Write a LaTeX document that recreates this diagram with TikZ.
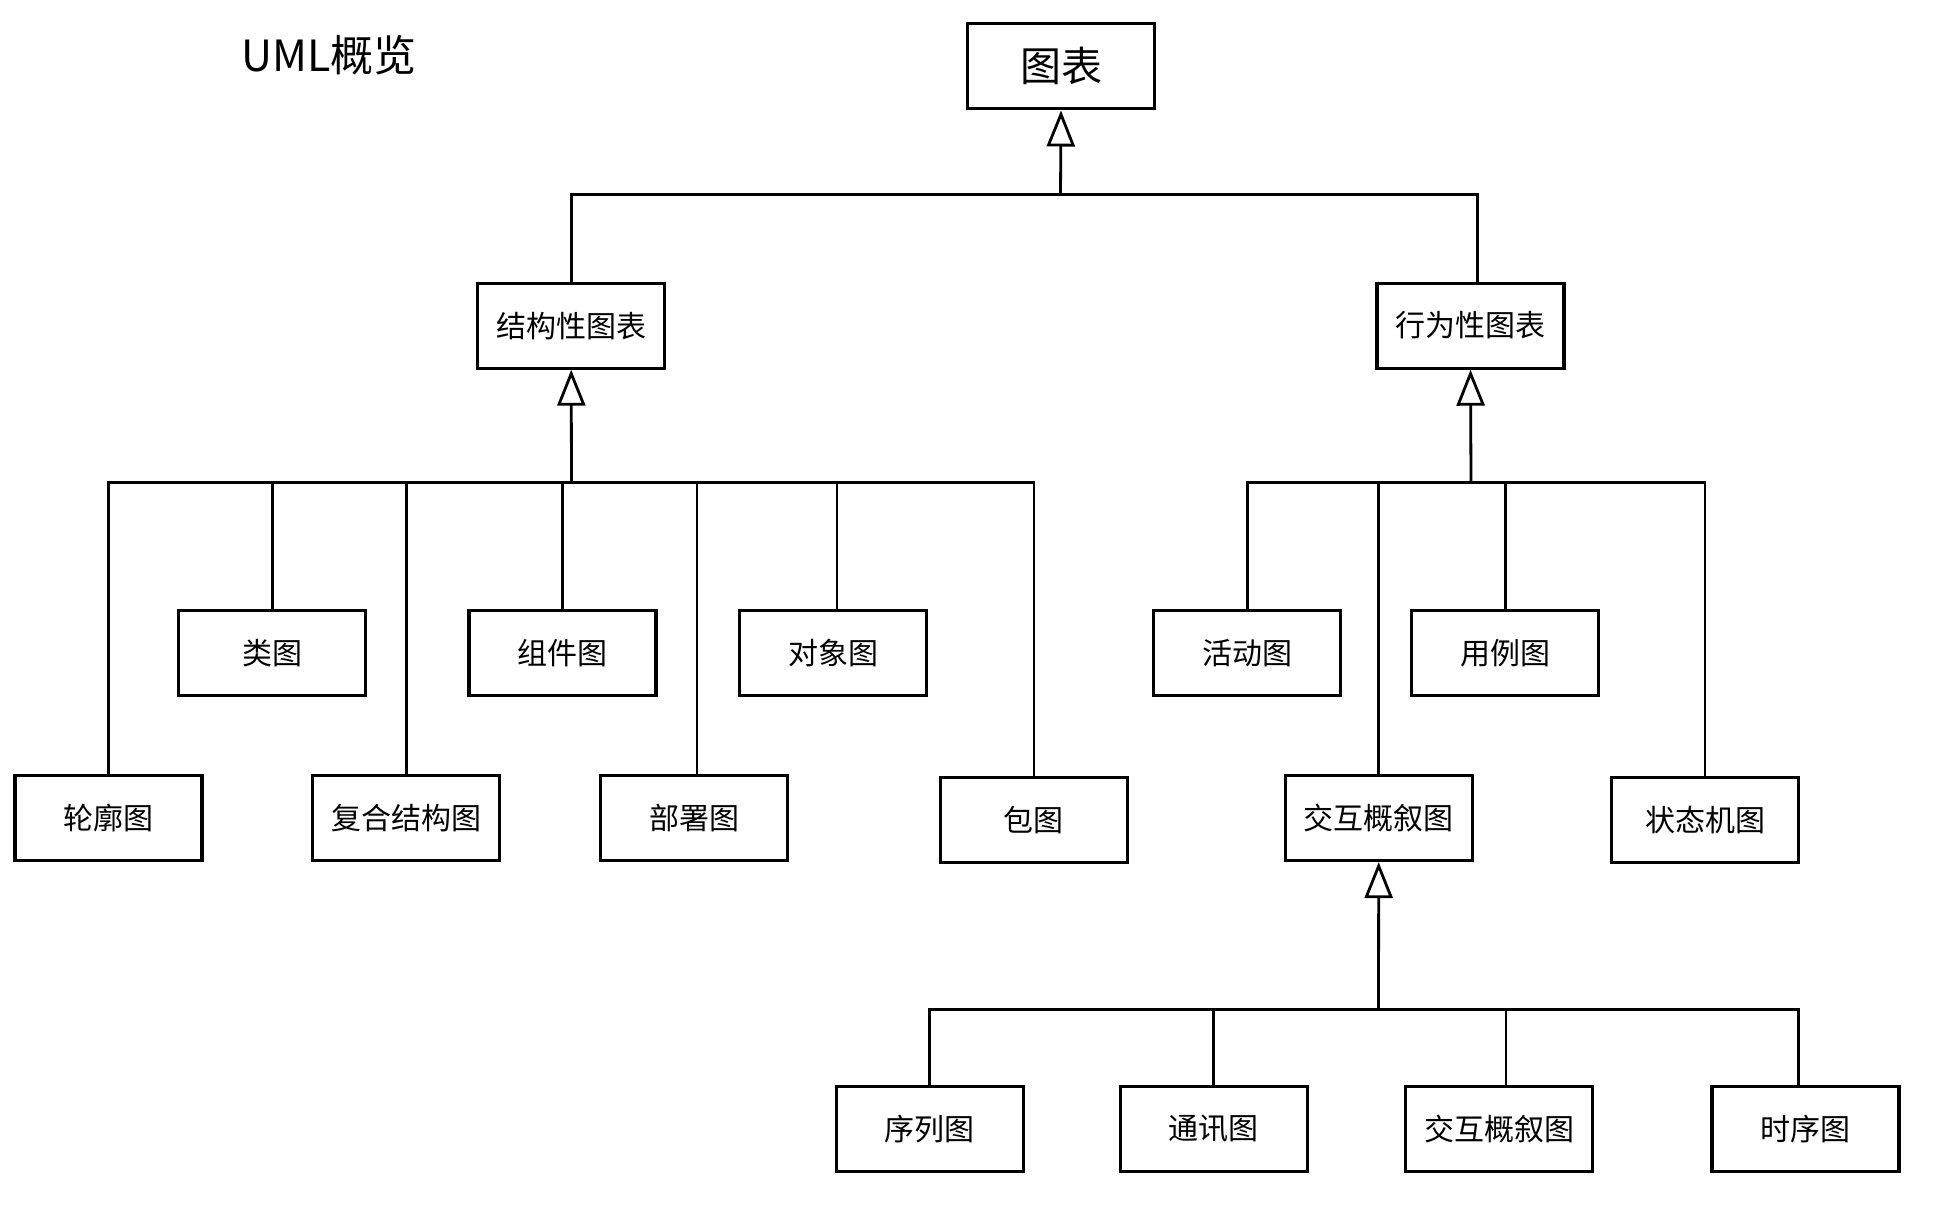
\documentclass[tikz,border=0pt]{standalone}
\usepackage{fontspec}
\setmainfont{Noto Sans CJK SC}
\usetikzlibrary{arrows.meta}
\begin{document}
\begin{tikzpicture}[x=1pt,y=-1pt,
  box/.style={draw=black,line width=3.2pt,minimum width=187pt,minimum height=85pt,inner sep=0pt,font=\fontsize{30}{33}\selectfont},
  conn/.style={draw=black,line width=2.8pt},
  gen/.style={conn,-{Triangle[open,length=36pt,width=28pt]}}]
\useasboundingbox[fill=white] (0,0) rectangle (1945,1217);
\node[font=\fontsize{43}{48}\selectfont] (title) at (329,55) {UML概览};
% level 0
\node[box,font=\fontsize{41}{45}\selectfont] (top) at (1061,66.4) {图表};
% level 1
\node[box] (s) at (571.2,325.6) {结构性图表};
\node[box] (b) at (1470.5,325.6) {行为性图表};
% structural children
\node[box] (lei) at (272.3,653.1) {类图};
\node[box] (zj) at (562.5,653.1) {组件图};
\node[box] (dx) at (833,653.1) {对象图};
\node[box] (lk) at (108.5,818) {轮廓图};
\node[box] (fh) at (406.2,818) {复合结构图};
\node[box] (bs) at (694,818) {部署图};
\node[box] (bao) at (1033.9,820) {包图};
% behavioral children
\node[box] (hd) at (1247.2,653.1) {活动图};
\node[box] (yl) at (1505.2,653.1) {用例图};
\node[box] (jh) at (1378.7,818) {交互概叙图};
\node[box] (zt) at (1705,820) {状态机图};
% interaction children
\node[box] (xl) at (929.7,1128.8) {序列图};
\node[box] (tx) at (1213.7,1128.8) {通讯图};
\node[box] (jh2) at (1499,1128.8) {交互概叙图};
\node[box] (sx) at (1805.4,1128.8) {时序图};
% junctions
\coordinate (jT) at (1060.5,194.7);
\coordinate (jS) at (571.5,482.5);
\coordinate (jB) at (1471,482.5);
\coordinate (jI) at (1378.5,1009.7);
% top bus
\draw[conn] (s.north) |- (jT);
\draw[conn] ([xshift=7pt]b.north) |- (jT);
\draw[gen] (jT) -- (top.south);
% structural bus
\draw[conn] (lk.north) |- (jS);
\draw[conn] (lei.north) |- (jS);
\draw[conn] (fh.north) |- (jS);
\draw[conn] (zj.north) |- (jS);
\draw[conn] ([xshift=3pt]bs.north) |- (jS);
\draw[conn] ([xshift=4pt]dx.north) |- (jS);
\draw[conn] (bao.north) |- (jS);
\draw[gen] (jS) -- (s.south);
% behavioral bus
\draw[conn] (hd.north) |- (jB);
\draw[conn] (jh.north) |- (jB);
\draw[conn] (yl.north) |- (jB);
\draw[conn] (zt.north) |- (jB);
\draw[gen] (jB) -- (b.south);
% interaction bus
\draw[conn] (xl.north) |- (jI);
\draw[conn] (tx.north) |- (jI);
\draw[conn] ([xshift=7pt]jh2.north) |- (jI);
\draw[conn] ([xshift=-7pt]sx.north) |- (jI);
\draw[gen] (jI) -- (jh.south);
\end{tikzpicture}
\end{document}
